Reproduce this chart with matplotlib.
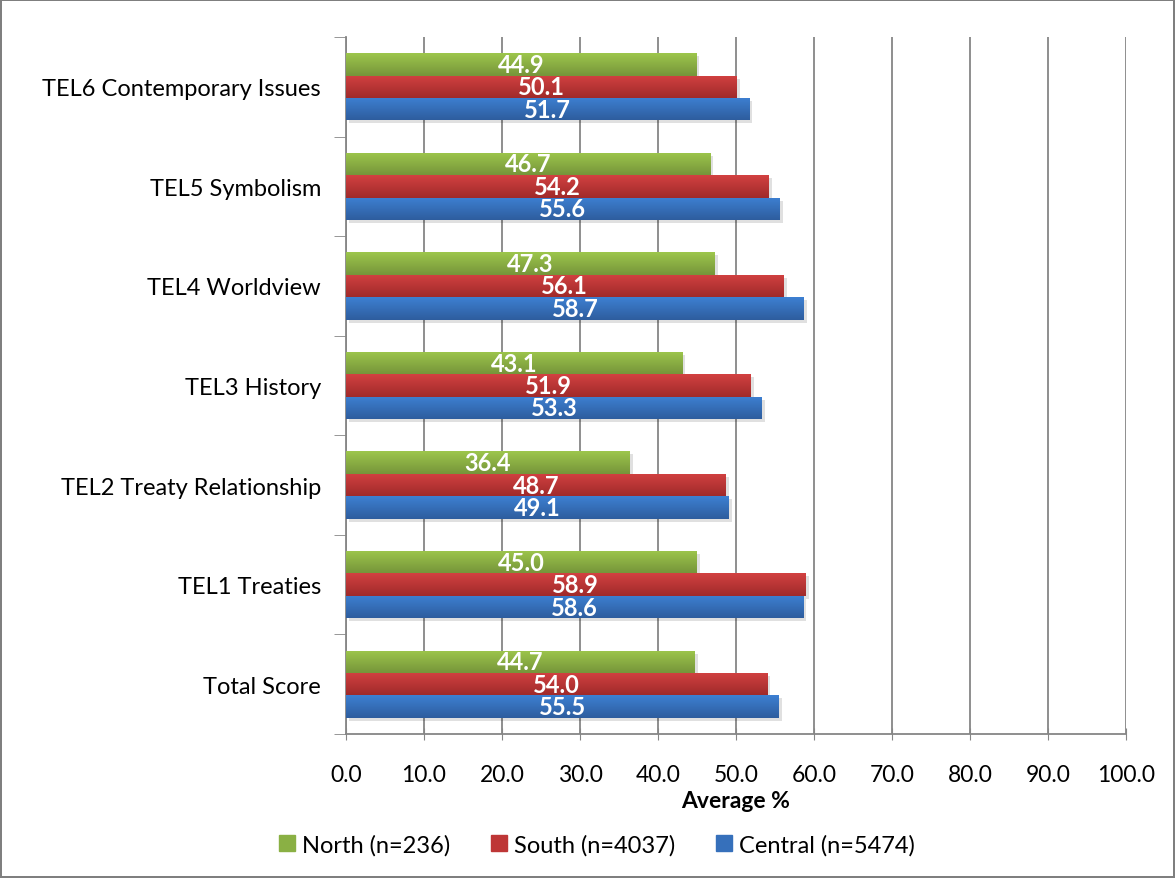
import numpy as np
import matplotlib.pyplot as plt
from matplotlib.colors import LinearSegmentedColormap
from matplotlib.patches import Rectangle, Patch

plt.rcParams['font.family'] = ['Lato', 'DejaVu Sans']

categories = ['Total Score', 'TEL1 Treaties', 'TEL2 Treaty Relationship', 'TEL3 History',
              'TEL4 Worldview', 'TEL5 Symbolism', 'TEL6 Contemporary Issues']
north = [44.7, 45.0, 36.4, 43.1, 47.3, 46.7, 44.9]
south = [54.0, 58.9, 48.7, 51.9, 56.1, 54.2, 50.1]
central = [55.5, 58.6, 49.1, 53.3, 58.7, 55.6, 51.7]
series_names = ['North (n=236)', 'South (n=4037)', 'Central (n=5474)']
# (top colour, bottom colour) of the gradient fill
series_colors = [('#9dc64c', '#76953a'), ('#d24141', '#a02a2a'), ('#3d80d2', '#2e5d9e')]
legend_colors = ['#8ab044', '#be3636', '#3670bb']

fig = plt.figure(figsize=(11.75, 8.79), dpi=100)
fig.patch.set_edgecolor('#7f7f7f')
fig.patch.set_linewidth(1.5)
ax = fig.add_axes([0.2945, 0.1638, 0.6638, 0.793])

y = np.arange(len(categories))
h = 0.225
offsets = [h, 0, -h]
for vals, off, name, (ctop, cbot) in zip([north, south, central], offsets, series_names, series_colors):
    bars = ax.barh(y + off, vals, height=h, color=cbot, label=name, zorder=3)
    cmap = LinearSegmentedColormap.from_list('g', [cbot, ctop])
    grad = np.linspace(0, 1, 64).reshape(-1, 1)
    for b, v in zip(bars, vals):
        x0, y0 = b.get_x(), b.get_y()
        w, hh = b.get_width(), b.get_height()
        # soft shadow
        ax.add_patch(Rectangle((x0 + 0.4, y0 - 0.03), w, hh, color='#000000', alpha=0.12,
                               lw=0, zorder=2))
        im = ax.imshow(grad, extent=[x0, x0 + w, y0, y0 + hh], origin='lower', cmap=cmap,
                       aspect='auto', zorder=3.5)
        im.set_clip_path(b)
        ax.text(v / 2, y0 + hh / 2, f'{v:.1f}', ha='center', va='center', color='white',
                fontsize=17, fontweight='bold', zorder=5)

ax.set_xlim(0, 100)
ax.set_ylim(-0.5, len(categories) - 0.5)
ax.set_xticks(np.arange(0, 101, 10))
ax.set_xticklabels([f'{t:.1f}' for t in np.arange(0, 101, 10)], fontsize=16.5)
ax.set_yticks(y)
ax.set_yticklabels(categories, fontsize=17)
ax.set_yticks(np.arange(-0.5, len(categories), 1), minor=True)
ax.tick_params(axis='y', which='major', length=0, pad=18)
ax.tick_params(axis='y', which='minor', length=9, color='#868686', direction='out')
ax.tick_params(axis='x', length=9, color='#868686', direction='inout', pad=17)
ax.grid(axis='x', color='#868686', linewidth=1.3, zorder=0)
for s in ['top', 'right']:
    ax.spines[s].set_visible(False)
for s in ['left', 'bottom']:
    ax.spines[s].set_color('#868686')
    ax.spines[s].set_linewidth(1.3)
ax.set_xlabel('Average %', fontsize=16.5, fontweight='bold', labelpad=4)

handles = [Patch(color=c) for c in legend_colors]
fig.legend(handles, series_names, loc='center', bbox_to_anchor=(0.508, 0.038), ncol=3,
           frameon=False, fontsize=17, handlelength=0.7, handleheight=0.7,
           handletextpad=0.3, columnspacing=1.7)

fig.savefig('out.png', dpi=100)
